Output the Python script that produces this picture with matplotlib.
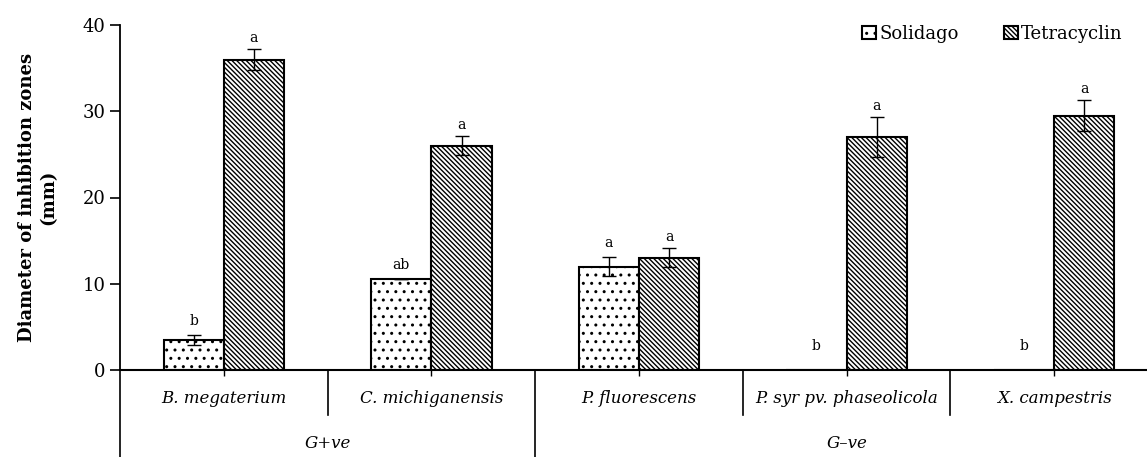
import numpy as np
import matplotlib
matplotlib.use('Agg')
import matplotlib.pyplot as plt

# Data
strains = ['B. megaterium', 'C. michiganensis', 'P. fluorescens',
           'P. syr pv. phaseolicola', 'X. campestris']
groups = ['G+ve', 'G\u2013ve']
group_sizes = [2, 3]
solidago = [3.5, 10.5, 12.0, 0.0, 0.0]
solidago_err = [0.6, 0.0, 1.1, 0.0, 0.0]
tetra = [36.0, 26.0, 13.0, 27.0, 29.5]
tetra_err = [1.2, 1.1, 1.1, 2.3, 1.8]
solidago_letters = ['b', 'ab', 'a', 'b', 'b']
tetra_letters = ['a', 'a', 'a', 'a', 'a']

plt.rcParams['font.family'] = ['DejaVu Serif']
plt.rcParams['hatch.linewidth'] = 1.0

W, H = 1147, 457
fig = plt.figure(figsize=(W / 100, H / 100), dpi=100)
ax = fig.add_axes([120 / W, (H - 370) / H, 1038 / W, 345 / H])

x = np.arange(len(strains))
bw = 0.29
ax.bar(x - bw / 2, solidago, bw, facecolor='white', edgecolor='black',
       linewidth=1.5, hatch='..', label='Solidago', zorder=2)
ax.bar(x + bw / 2, tetra, bw, facecolor='white', edgecolor='black',
       linewidth=1.5, hatch='\\' * 7, label='Tetracyclin', zorder=2)
ax.errorbar(x - bw / 2, solidago, yerr=solidago_err, fmt='none', ecolor='black',
            elinewidth=1, capsize=5, capthick=1, zorder=3)
ax.errorbar(x + bw / 2, tetra, yerr=tetra_err, fmt='none', ecolor='black',
            elinewidth=1, capsize=5, capthick=1, zorder=3)

# significance letters
for i in range(len(strains)):
    ax.annotate(solidago_letters[i], (x[i] - bw / 2, solidago[i] + solidago_err[i]),
                xytext=(0, 5 if solidago[i] > 0 else 12), textcoords='offset points',
                ha='center', va='bottom', fontsize=10)
    ax.annotate(tetra_letters[i], (x[i] + bw / 2, tetra[i] + tetra_err[i]),
                xytext=(0, 3), textcoords='offset points',
                ha='center', va='bottom', fontsize=10)

ax.set_xlim(-0.5, len(strains) - 0.5)
ax.set_ylim(0, 40)
ax.set_yticks([0, 10, 20, 30, 40])
ax.set_xticks(x)
ax.set_xticklabels([])
ax.tick_params(axis='x', direction='out', length=4, width=1)
ax.tick_params(axis='y', direction='out', length=7, width=1.2, labelsize=13)
for s in ['top', 'right']:
    ax.spines[s].set_visible(False)
ax.spines['left'].set_linewidth(1.3)
ax.spines['bottom'].set_linewidth(1.5)

ax.set_ylabel('Diameter of inhibition zones\n(mm)', fontsize=13,
              fontweight='bold')
ax.yaxis.set_label_coords(-(120 - 57) / 1038, 0.5)

# hierarchical category axis below the plot
tr = ax.get_xaxis_transform()
bounds = np.arange(len(strains) + 1) - 0.5
group_edges = np.concatenate([[0], np.cumsum(group_sizes)]) - 0.5
for b in bounds:
    if b in group_edges:
        ax.plot([b, b], [0, -0.26], color='black', lw=1.2, transform=tr,
                clip_on=False)
    else:
        ax.plot([b, b], [0, -0.13], color='black', lw=1.2, transform=tr,
                clip_on=False)
for i, name in enumerate(strains):
    ax.text(x[i], -0.083, name, transform=tr, ha='center', va='center',
            fontsize=12, style='italic')
for g in range(len(groups)):
    mid = (group_edges[g] + group_edges[g + 1]) / 2
    ax.text(mid, -0.213, groups[g], transform=tr, ha='center', va='center',
            fontsize=12, style='italic')

leg = ax.legend(loc='upper right', bbox_to_anchor=((1130 - 120) / 1038, 1.022),
                ncol=2, frameon=False, fontsize=13, handlelength=0.75,
                handleheight=0.75, handletextpad=0.2, columnspacing=2.5,
                borderaxespad=0)

fig.savefig('out.png', dpi=100)
